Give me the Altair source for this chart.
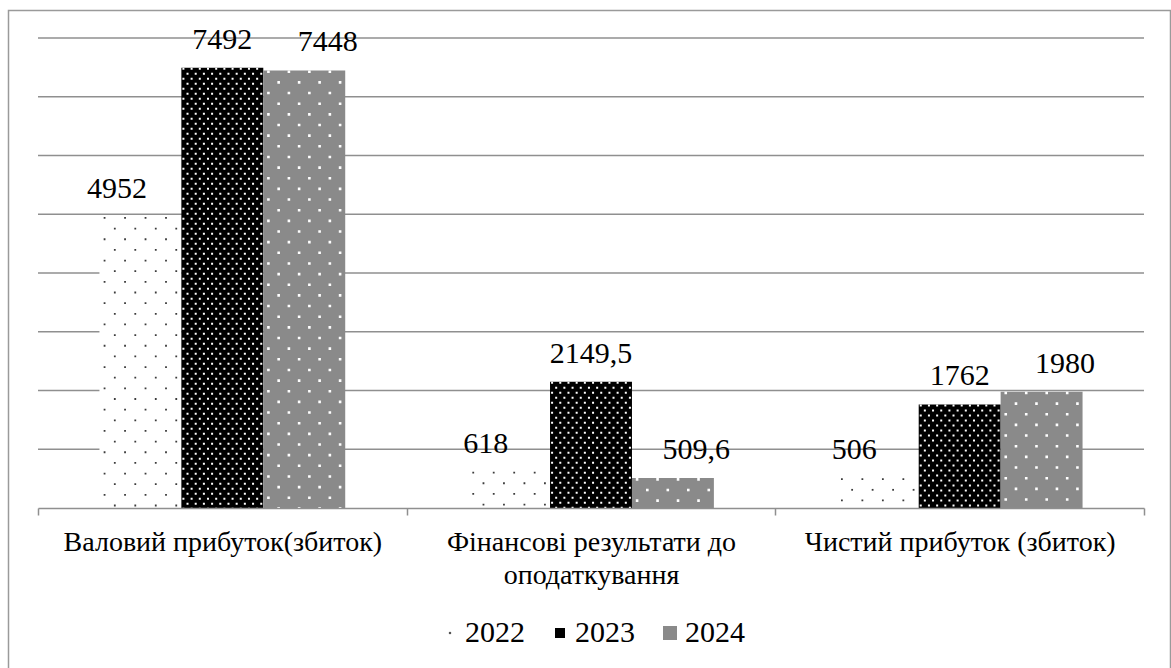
import altair as alt
import pandas as pd

# ---- data -------------------------------------------------------------
categories = [
    "Валовий прибуток(збиток)",
    "Фінансові результати до\nоподаткування",
    "Чистий прибуток (збиток)",
]
years = ["2022", "2023", "2024"]
values_2022 = [4952, 618, 506]
values_2023 = [7492, 2149.5, 1762]
values_2024 = [7448, 509.6, 1980]
series = {"2022": values_2022, "2023": values_2023, "2024": values_2024}
grid_values = [1000, 2000, 3000, 4000, 5000, 6000, 7000, 8000]


def fmt(v):
    return f"{v:g}".replace(".", ",")


rows = []
for yr in years:
    for cat, val in zip(categories, series[yr]):
        rows.append({"category": cat, "year": yr, "value": val, "label": fmt(val)})
df = pd.DataFrame(rows)

# ---- styling ------------------------------------------------------------
W, H = 1106, 470
FONT = "Liberation Serif"
GRID = "#8f8f8f"

y_scale = alt.Scale(domain=[0, 8000], nice=False, zero=True)
x_scale = alt.Scale(domain=categories, paddingInner=0, paddingOuter=0)
year_offset = alt.Scale(domain=years, paddingInner=0, paddingOuter=0.75)

x_axis = alt.Axis(
    title=None, labelExpr="split(datum.label, '\\n')", labelFont=FONT,
    labelFontSize=28, labelColor="black", labelLimit=0, labelAngle=0,
    labelPadding=13, labelLineHeight=33, tickBand="extent", tickSize=7,
    tickColor=GRID, tickWidth=1.5, domainColor=GRID, domainWidth=1.5,
    grid=False, zindex=1,
)

# ---- horizontal grid lines ---------------------------------------------
grid = alt.Chart(pd.DataFrame({"tick": grid_values})).mark_rule(
    color=GRID, strokeWidth=1.5
).encode(
    x=alt.value(0), x2=alt.value(W),
    y=alt.Y("tick:Q", scale=y_scale, axis=None),
)

# ---- bars and value labels ---------------------------------------------
bars = alt.Chart(df).mark_bar().encode(
    x=alt.X("category:N", scale=x_scale, axis=x_axis),
    xOffset=alt.XOffset("year:N", scale=year_offset),
    y=alt.Y("value:Q", scale=y_scale, axis=None),
    color=alt.Color("year:N", scale=alt.Scale(domain=years, range=["#ffffff", "#000000", "#8a8a8a"]), legend=None),
)

labels = alt.Chart(df).mark_text(
    dy=-19, baseline="alphabetic", font=FONT, fontSize=30, color="black"
).encode(
    x=alt.X("category:N", scale=x_scale, axis=None),
    xOffset=alt.XOffset("year:N", scale=year_offset),
    y=alt.Y("value:Q", scale=y_scale, axis=None),
    text="label:N",
)


# ---- dotted fill textures: dashed vertical rules inside each bar -------
def texture(year, cols, color, width, dash, shift):
    pad = int(round(0.75 * cols))
    keys = (
        [f"padL-{k:02d}" for k in range(pad)]
        + [f"{y}-{k:02d}" for y in years for k in range(cols)]
        + [f"padR-{k:02d}" for k in range(pad)]
    )
    trows = []
    for cat, val in zip(categories, series[year]):
        for k in range(cols):
            trows.append({"category": cat, "key": f"{year}-{k:02d}", "value": val, "odd": k % 2})
    tdf = pd.DataFrame(trows)
    sub = alt.Scale(domain=keys, paddingInner=0, paddingOuter=0)
    out = []
    for parity in (0, 1):
        out.append(
            alt.Chart(tdf[tdf["odd"] == parity]).mark_rule(
                color=color, strokeWidth=width, strokeDash=dash,
                strokeDashOffset=shift * parity,
            ).encode(
                x=alt.X("category:N", scale=x_scale, axis=None),
                xOffset=alt.XOffset("key:N", scale=sub),
                y=alt.Y("value:Q", scale=y_scale, axis=None),
                y2=alt.datum(0),
            )
        )
    return out


tex_2022 = texture("2022", 8, "#3c3c3c", 1.8, [1.8, 19.5], 10.65)
tex_2023 = texture("2023", 20, "#ffffff", 2.0, [2.0, 8.0], 5)
tex_2024 = texture("2024", 8, "#ffffff", 2.6, [2.6, 18.7], 10.65)

# ---- legend row ---------------------------------------------------------
legend_df = pd.DataFrame({"year": years})
legend_x = alt.Scale(domain=years, range=[357, 687], paddingInner=0, paddingOuter=0)

legend_symbols = alt.Chart(legend_df).mark_point(filled=True, shape="square", opacity=1).encode(
    x=alt.X("year:N", scale=legend_x, axis=None),
    y=alt.value(595),
    fill=alt.Fill("year:N", scale=alt.Scale(domain=years, range=["#555555", "#000000", "#8a8a8a"]), legend=None),
    size=alt.Size("year:O", scale=alt.Scale(domain=years, range=[5, 196, 196]), legend=None),
)
legend_text = alt.Chart(legend_df).mark_text(
    align="left", dx=15, baseline="alphabetic", font=FONT, fontSize=30, color="black"
).encode(
    x=alt.X("year:N", scale=legend_x, axis=None),
    y=alt.value(604),
    text="year:N",
)

# ---- outer frame -----------------------------------------------------------
frame = alt.Chart(pd.DataFrame({"k": [0]})).mark_rect(
    fill="transparent", stroke="#9a9a9a", strokeWidth=1.5
).encode(
    x=alt.value(-29.5), x2=alt.value(1132.5), y=alt.value(-27.5), y2=alt.value(700)
)

chart = alt.layer(
    frame, grid, bars, *tex_2022, *tex_2023, *tex_2024, labels, legend_symbols, legend_text
).resolve_scale(
    x="independent", xOffset="independent"
).properties(
    width=W, height=H,
    autosize=alt.AutoSizeParams(type="none"),
    padding={"left": 38, "top": 38, "right": 27, "bottom": 160},
).configure_view(strokeWidth=0)

chart.save("out.html", embed_options={"renderer": "svg", "actions": False})
